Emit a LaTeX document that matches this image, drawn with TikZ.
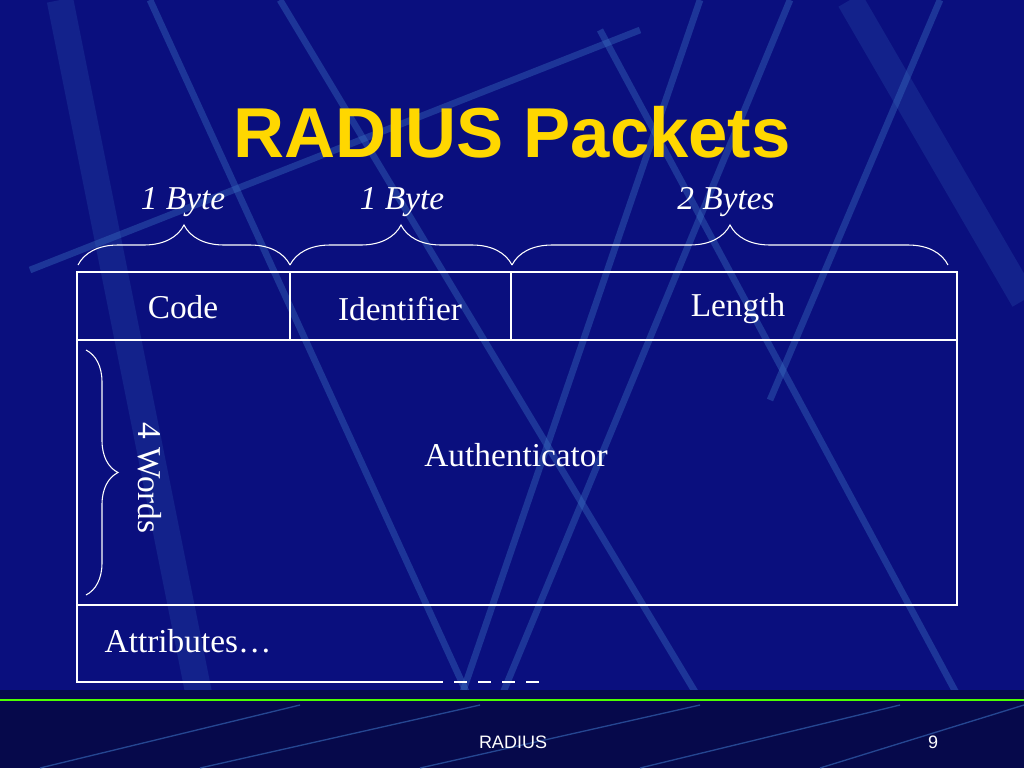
\documentclass[tikz,border=0pt]{standalone}
\usepackage{fontspec}
\setmainfont{Liberation Serif}
\setsansfont{Liberation Sans}
\usetikzlibrary{decorations.pathreplacing}
\definecolor{bg}{HTML}{0A0F7E}
\definecolor{streak}{HTML}{3A6FC0}
\definecolor{ttl}{HTML}{FFD700}
\begin{document}
\begin{tikzpicture}[x=0.75pt,y=-0.75pt,
  cell/.style={draw=white,line width=1.8pt},
  lbl/.style={text=white,font=\fontsize{25}{30}\selectfont},
  ilbl/.style={text=white,font=\fontsize{25}{30}\selectfont\itshape},
  brc/.style={draw=white,line width=0.8pt,decorate,decoration={brace,amplitude=30pt,aspect=0.5}},
  sk/.style={draw=streak,opacity=0.4,line width=5pt}]
\fill[bg] (0,0) rectangle (1024,768);
\useasboundingbox (0,0) rectangle (1024,768);
% background streaks
\draw[sk] (150,0) -- (470,700);
\draw[sk] (280,0) -- (700,700);
\draw[sk] (600,30) -- (960,700);
\draw[sk] (30,270) -- (640,30);
\draw[sk] (460,700) -- (700,0);
\draw[sk] (790,0) -- (500,700);
\draw[sk] (940,0) -- (770,400);
\draw[sk,opacity=0.2,line width=20pt] (60,0) -- (200,700);
\draw[sk,opacity=0.2,line width=20pt] (850,0) -- (1024,300);
% bottom band
\fill[black!40!bg] (0,690) rectangle (1024,768);
\draw[green!70!yellow,line width=2pt] (0,700) -- (1024,700);
\foreach \a/\b in {40/300,200/480,420/700,640/900,820/1024}{
  \draw[streak,opacity=0.6,line width=1pt] (\a,768) -- (\b,705);}
% title
\node (title) at (512,132) {\fontsize{53}{60}\selectfont\sffamily\bfseries\color{ttl}RADIUS Packets};
% byte labels
\node[ilbl] (b1) at (183,202) {1 Byte};
\node[ilbl] (b2) at (402,202) {1 Byte};
\node[ilbl] (b3) at (726,202) {2 Bytes};
\draw[brc] (78,265) -- (290,265);
\draw[brc] (290,265) -- (512,265);
\draw[brc] (512,265) -- (948,265);
% table
\draw[cell] (77,272) rectangle (957,605);
\draw[cell] (77,340) -- (957,340);
\draw[cell] (290,272) -- (290,340);
\draw[cell] (511,272) -- (511,340);
\draw[cell] (77,605) -- (77,682) -- (430,682);
\draw[cell,dash pattern=on 10pt off 8pt] (430,682) -- (545,682);
\node[lbl] (code) at (183,307) {Code};
\node[lbl] (id) at (400,309) {Identifier};
\node[lbl] (len) at (738,309) {Length};
\node[lbl] (auth) at (516,455) {Authenticator};
\node[lbl,anchor=west] (attr) at (100,641) {Attributes…};
\draw[brc,decoration={brace,amplitude=24pt}] (86,350) -- (86,595);
\node[lbl,rotate=-90] (words) at (150,478) {4 Words};
% footer
\node[text=white,font=\sffamily\fontsize{13.5}{16}\selectfont] (f1) at (513,742) {RADIUS};
\node[text=white,font=\sffamily\fontsize{13.5}{16}\selectfont] (f2) at (933,742) {9};
\end{tikzpicture}
\end{document}
